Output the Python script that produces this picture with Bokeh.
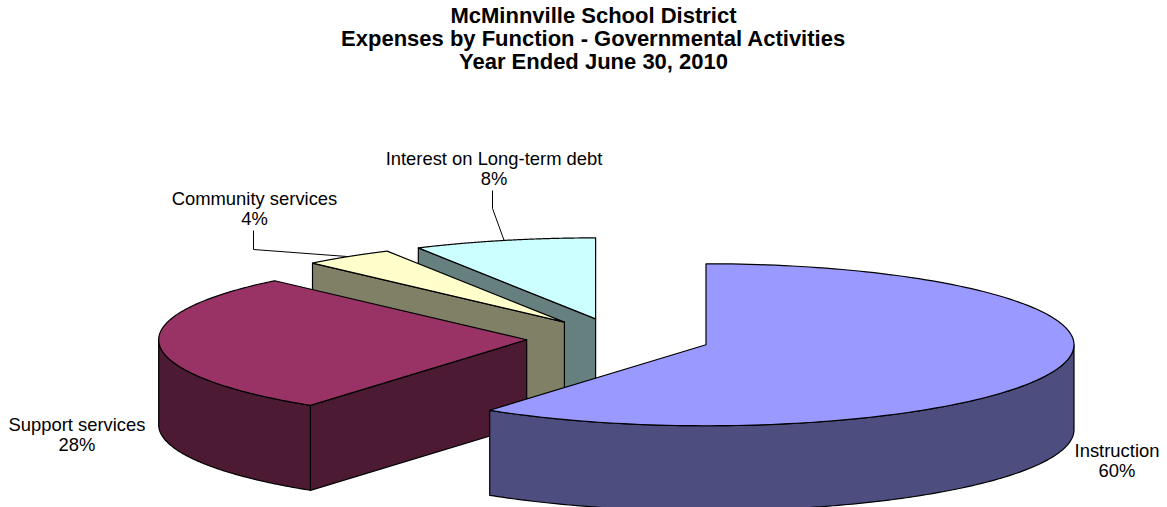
import numpy as np
from bokeh.core.properties import value
from bokeh.embed import file_html
from bokeh.models import Range1d
from bokeh.plotting import figure
from bokeh.resources import INLINE

# Chart content
title_lines = [
    "McMinnville School District",
    "Expenses by Function - Governmental Activities",
    "Year Ended June 30, 2010",
]
categories = ["Instruction", "Support services", "Community services", "Interest on Long-term debt"]
shares = [60, 28, 4, 8]
top_colors = ["#9999FF", "#993366", "#FFFFCC", "#CCFFFF"]
side_colors = ["#4D4D80", "#4D1A33", "#808066", "#668080"]

# Projection of the tilted pie, in page units with y growing downward
CX, CY = 618.0, 338.0
RX, RY = 368.0, 81.0
DEPTH = 85.0
EXPLODE = 0.25

FONT = value("Liberation Sans")

p = figure(
    width=1167, height=507, output_backend="svg", toolbar_location=None,
    x_range=Range1d(0, 1167), y_range=Range1d(507, 0),
    min_border=0, outline_line_color=None, background_fill_color="white",
)
p.axis.visible = False
p.grid.visible = False


def rim(ax, ay, a0, a1, n=160):
    """Points on the rim of a slice between two clockwise angles from 12 o'clock."""
    t = np.linspace(a0, a1, n)
    return ax + RX * np.sin(t), ay - RY * np.cos(t)


def draw_face(xs, ys, color):
    p.patch(list(xs), list(ys), fill_color=color, line_color="black",
            line_width=1.2, line_join="round")


# Slice angles and exploded apex positions
edges = np.radians(np.concatenate([[0], np.cumsum(shares)]) * 3.6)
slices = []
for start, end in zip(edges[:-1], edges[1:]):
    mid = (start + end) / 2
    slices.append((start, end, mid,
                   CX + EXPLODE * RX * np.sin(mid),
                   CY - EXPLODE * RY * np.cos(mid)))


def radial_wall(i, angle):
    ax, ay = slices[i][3], slices[i][4]
    tx, ty = rim(ax, ay, angle, angle, 1)
    draw_face([tx[0], ax, ax, tx[0]], [ty[0], ay, ay + DEPTH, ty[0] + DEPTH], side_colors[i])


def outer_wall(i, a0, a1):
    ax, ay = slices[i][3], slices[i][4]
    x, y = rim(ax, ay, a0, a1)
    draw_face(np.r_[x, x[::-1]], np.r_[y, y[::-1] + DEPTH], side_colors[i])


def top_face(i):
    start, end, _, ax, ay = slices[i]
    x, y = rim(ax, ay, start, end)
    draw_face(np.r_[ax, x], np.r_[ay, y], top_colors[i])


# Painted from the back of the pie to the front
for i in (3, 2):
    radial_wall(i, slices[i][0])
    top_face(i)

# Support services: front cut face, then the visible outer wall
radial_wall(1, slices[1][0])
outer_wall(1, slices[1][0], np.radians(270))
top_face(1)

# Instruction: outer wall from the right-hand extreme round to its cut edge
outer_wall(0, np.radians(90), slices[0][1])
top_face(0)

# Leader lines for the two small slices, ending on the rim at mid-angle
for i, xs, ys in ((2, [253, 253], [230, 249]), (3, [492, 492], [190, 208])):
    ex, ey = rim(slices[i][3], slices[i][4], slices[i][2], slices[i][2], 1)
    p.line(xs + [ex[0]], ys + [ey[0]], line_color="black", line_width=1)

# Title
p.text([593, 593, 593], [15, 38, 61], text=title_lines, text_font=FONT,
       text_font_size="22px", text_font_style="bold", text_color="black",
       text_align="center", text_baseline="middle")

# Category labels, each with its share beneath
label_x = [1116.5, 76.5, 254, 493.5]
label_y = [450, 424, 198, 158]
for x, y, name, share in zip(label_x, label_y, categories, shares):
    p.text([x, x], [y, y + 19.5], text=[name, f"{share}%"], text_font=FONT,
           text_font_size="18.4px", text_color="black",
           text_align="center", text_baseline="middle")

open("out.html", "w").write(file_html(p, INLINE))
